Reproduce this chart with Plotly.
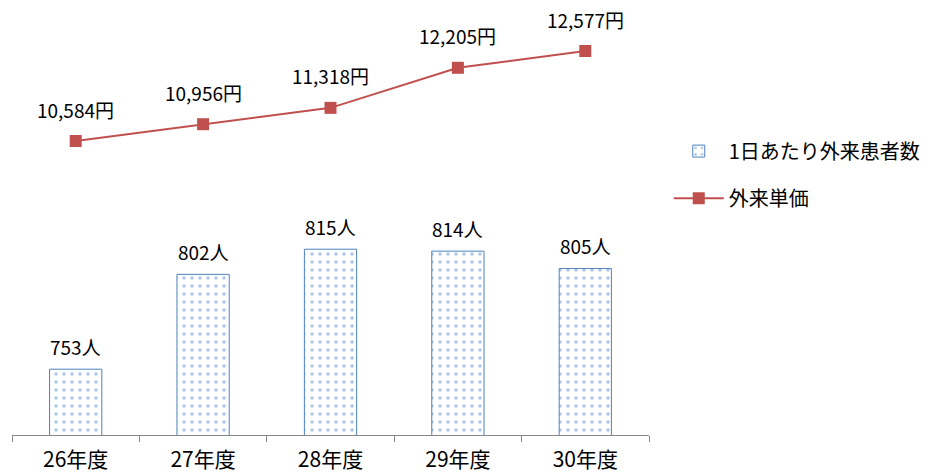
import plotly.graph_objects as go

# Fiscal years, daily outpatients and outpatient unit price
years = ["26年度", "27年度", "28年度", "29年度", "30年度"]
patients = [753, 802, 815, 814, 805]
unit_price = [10584, 10956, 11318, 12205, 12577]

FONT = "Noto Sans CJK JP"
BAR_EDGE = "#4F81BD"
DOT = "#5B8ED6"
LINE = "#C0504D"

fig = go.Figure()

fig.add_trace(go.Bar(
    x=years, y=patients, name="1日あたり外来患者数",
    marker=dict(
        color="white",
        line=dict(color=BAR_EDGE, width=1),
        pattern=dict(shape=".", fgcolor=DOT, bgcolor="white", size=8, solidity=0.15),
    ),
    legend="legend",
    hoverinfo="skip",
))

fig.add_trace(go.Scatter(
    x=years, y=unit_price, name="外来単価", yaxis="y2",
    mode="lines+markers",
    line=dict(color=LINE, width=2),
    marker=dict(symbol="square", size=12, color=LINE),
    legend="legend2",
    hoverinfo="skip",
))

annotations = []
for x, v in zip(years, patients):
    annotations.append(dict(
        x=x, y=v, xref="x", yref="y", text=f"{v}人", showarrow=False,
        yshift=23, font=dict(family=FONT, size=19, color="#000"),
    ))
for x, v in zip(years, unit_price):
    annotations.append(dict(
        x=x, y=v, xref="x", yref="y2", text=f"{v:,}円", showarrow=False,
        yshift=32, font=dict(family=FONT, size=19, color="#000"),
    ))

fig.update_layout(
    width=936, height=473,
    margin=dict(l=12, r=284, t=10, b=38),
    paper_bgcolor="white", plot_bgcolor="white",
    font=dict(family=FONT, color="#000"),
    bargap=0.59,
    showlegend=True,
    xaxis=dict(
        showline=True, linecolor="#868686", linewidth=1,
        ticks="outside", tickson="boundaries", ticklen=6, tickcolor="#868686",
        tickfont=dict(family=FONT, size=21, color="#000"),
        ticklabelstandoff=6,
        showgrid=False, zeroline=False, automargin=False,
    ),
    yaxis=dict(range=[719, 938.6], visible=False, showgrid=False, zeroline=False),
    yaxis2=dict(range=[4074, 13485], overlaying="y", side="right",
                visible=False, showgrid=False, zeroline=False),
    legend=dict(
        x=1.031, y=0.668, xanchor="left", yanchor="middle",
        font=dict(family=FONT, size=20, color="#000"),
        itemwidth=50, bgcolor="rgba(0,0,0,0)",
    ),
    legend2=dict(
        x=1.031, y=0.557, xanchor="left", yanchor="middle",
        font=dict(family=FONT, size=20, color="#000"),
        itemwidth=50, bgcolor="rgba(0,0,0,0)",
    ),
    annotations=annotations,
)

fig.write_html("out.html")
